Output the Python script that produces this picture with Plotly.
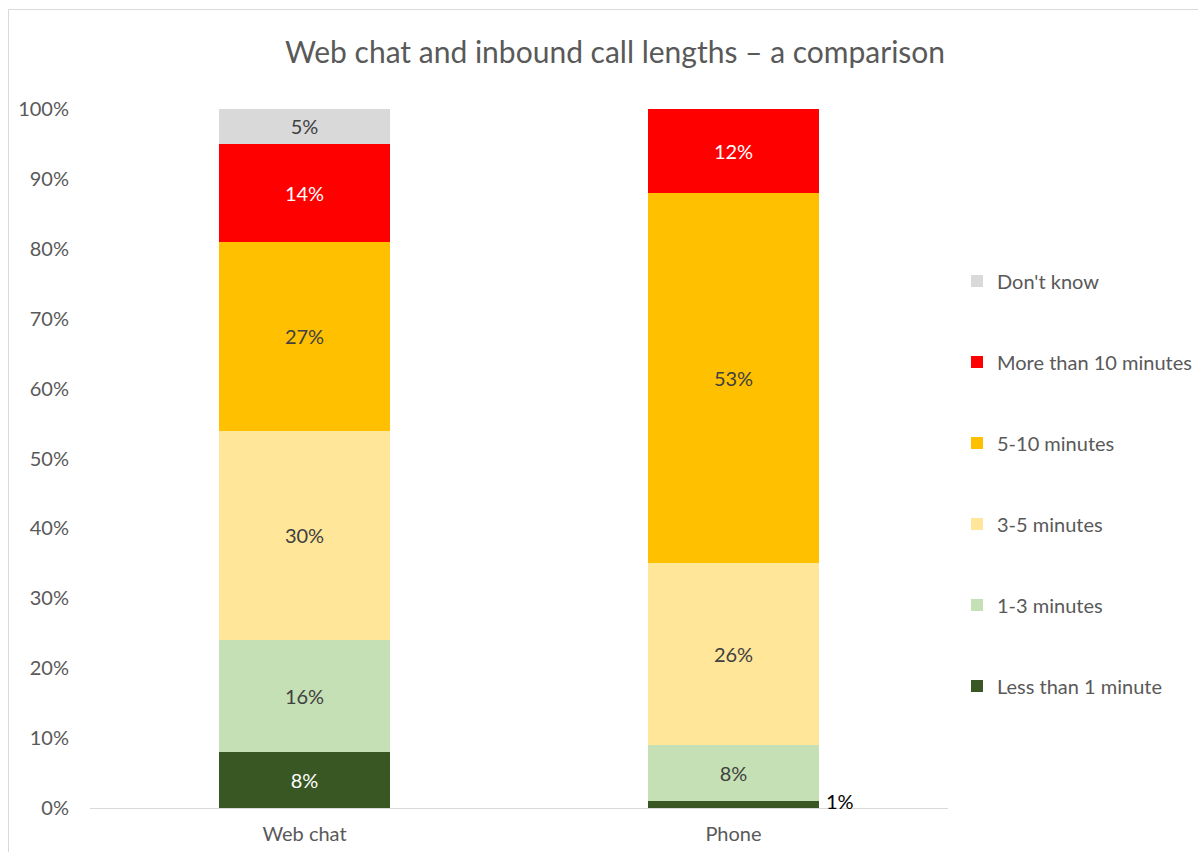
import plotly.graph_objects as go

# Survey data: share of interactions by length, per channel (percent)
channels = ["Web chat", "Phone"]
series_names = [
    "Less than 1 minute",
    "1-3 minutes",
    "3-5 minutes",
    "5-10 minutes",
    "More than 10 minutes",
    "Don't know",
]
less_than_1 = [8, 1]
one_to_3 = [16, 8]
three_to_5 = [30, 26]
five_to_10 = [27, 53]
more_than_10 = [14, 12]
dont_know = [5, 0]
y_ticks = [0, 10, 20, 30, 40, 50, 60, 70, 80, 90, 100]

series_values = [less_than_1, one_to_3, three_to_5, five_to_10, more_than_10, dont_know]
colors = ["#385723", "#C5E0B4", "#FFE699", "#FFC000", "#FF0000", "#D9D9D9"]
label_colors = ["#FFFFFF", "#404040", "#404040", "#404040", "#FFFFFF", "#404040"]

FONT = "Lato, 'Open Sans', sans-serif"

W, H = 1198, 852
L, R, T, B = 90, 250, 109, 44

fig = go.Figure()

n = len(series_names)
for i, (name, vals) in enumerate(zip(series_names, series_values)):
    texts = []
    for j, v in enumerate(vals):
        # The thin phone sliver is labelled outside the bar instead
        if v == 0 or (i == 0 and channels[j] == "Phone"):
            texts.append("")
        else:
            texts.append(f"{v}%")
    fig.add_trace(go.Bar(
        x=channels,
        y=vals,
        name=name,
        legendgroup=name,
        legendrank=n - i,
        marker=dict(color=colors[i], line=dict(width=0)),
        text=texts,
        textposition="inside",
        insidetextanchor="middle",
        textangle=0,
        textfont=dict(family=FONT, size=20, color=label_colors[i]),
        hoverinfo="skip",
    ))

# Outside label for the small phone "less than 1 minute" segment
fig.add_annotation(
    x=channels[1], y=less_than_1[1],
    text=f"{less_than_1[1]}%",
    showarrow=False,
    xanchor="left", yanchor="middle",
    xshift=90,
    font=dict(family=FONT, size=20, color="#000000"),
)

# Light chart-area border
pw, ph = W - L - R, H - T - B
fig.add_shape(
    type="rect", xref="paper", yref="paper",
    x0=(8.5 - L) / pw, x1=(W + 20 - L) / pw,
    y0=(H - B - (H + 20)) / ph, y1=(H - B - 9.5) / ph,
    line=dict(color="#D9D9D9", width=1),
    fillcolor="rgba(0,0,0,0)",
    layer="below",
)

fig.update_layout(
    width=W, height=H,
    margin=dict(l=L, r=R, t=T, b=B, pad=0, autoexpand=False),
    paper_bgcolor="white",
    plot_bgcolor="white",
    barmode="stack",
    bargap=0.6,
    font=dict(family=FONT, color="#595959", size=20),
    title=dict(
        text="Web chat and inbound call lengths \u2013 a comparison",
        x=615 / W, xanchor="center", xref="container",
        y=1 - 52 / H, yanchor="middle", yref="container",
        font=dict(family=FONT, size=30, color="#595959"),
    ),
    showlegend=True,
    legend=dict(
        traceorder="grouped",
        tracegroupgap=52,
        x=(957 - L) / pw, xanchor="left",
        y=0.5 - 25 / ph, yanchor="middle",
        font=dict(family=FONT, size=20, color="#595959"),
        bgcolor="rgba(0,0,0,0)",
        itemclick=False, itemdoubleclick=False,
    ),
    xaxis=dict(
        range=[-0.5, 1.5],
        showline=True, linecolor="#D9D9D9", linewidth=1,
        showgrid=False, ticks="", ticklabelstandoff=8,
        tickfont=dict(family=FONT, size=20, color="#595959"),
        fixedrange=True, automargin=False,
    ),
    yaxis=dict(
        range=[0, 100],
        tickvals=y_ticks,
        ticktext=[f"{v}%" for v in y_ticks],
        showgrid=False, zeroline=False, showline=False,
        ticks="", ticklabelstandoff=20,
        tickfont=dict(family=FONT, size=20, color="#595959"),
        fixedrange=True, automargin=False,
    ),
)

fig.write_html("out.html", config={"displayModeBar": False})
